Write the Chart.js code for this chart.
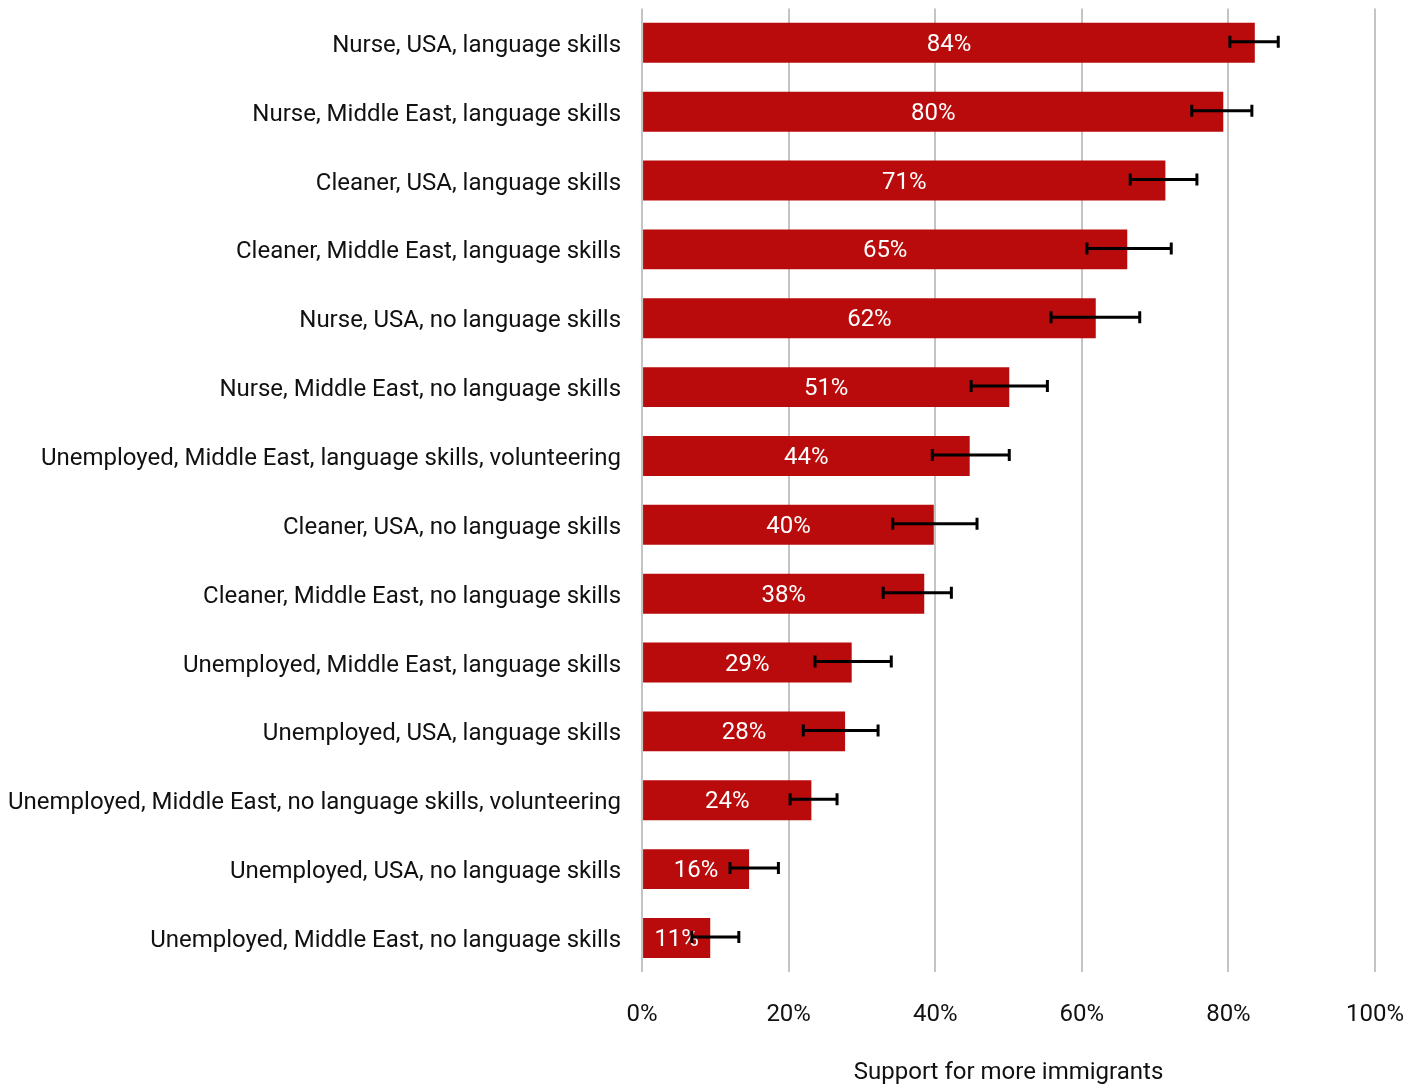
<!DOCTYPE html>
<html>
<head>
<meta charset="utf-8">
<script src="https://cdn.jsdelivr.net/npm/chart.js@4"></script>
<style>
  body { margin: 0; background: #fff; }
</style>
</head>
<body>
<canvas id="barChart" width="1421" height="1087"></canvas>
<script>
// DATA
var categories = [
  "Nurse, USA, language skills",
  "Nurse, Middle East, language skills",
  "Cleaner, USA, language skills",
  "Cleaner, Middle East, language skills",
  "Nurse, USA, no language skills",
  "Nurse, Middle East, no language skills",
  "Unemployed, Middle East, language skills, volunteering",
  "Cleaner, USA, no language skills",
  "Cleaner, Middle East, no language skills",
  "Unemployed, Middle East, language skills",
  "Unemployed, USA, language skills",
  "Unemployed, Middle East, no language skills, volunteering",
  "Unemployed, USA, no language skills",
  "Unemployed, Middle East, no language skills"
];
var support = [83.6, 79.3, 71.4, 66.2, 61.9, 50.1, 44.7, 39.8, 38.5, 28.6, 27.7, 23.1, 14.6, 9.3];
var valueLabels = ["84%", "80%", "71%", "65%", "62%", "51%", "44%", "40%", "38%", "29%", "28%", "24%", "16%", "11%"];
var errLow  = [80.2, 75.0, 66.6, 60.7, 55.8, 44.9, 39.6, 34.2, 32.9, 23.6, 22.0, 20.2, 12.0, 6.8];
var errHigh = [86.8, 83.2, 75.7, 72.2, 67.9, 55.3, 50.1, 45.7, 42.2, 34.0, 32.2, 26.6, 18.6, 13.2];
var xTicks = [0, 20, 40, 60, 80, 100];

// labels inside bars + error bars
const barExtras = {
  id: "barExtras",
  afterDatasetsDraw(chart) {
    const ctx = chart.ctx;
    const meta = chart.getDatasetMeta(0);
    const xs = chart.scales.x;
    ctx.save();
    ctx.font = "24px Roboto";
    ctx.fillStyle = "#ffffff";
    ctx.textAlign = "center";
    ctx.textBaseline = "middle";
    meta.data.forEach((bar, i) => {
      ctx.fillText(valueLabels[i], (bar.base + bar.x) / 2, bar.y + 2);
    });
    ctx.strokeStyle = "#000000";
    ctx.lineWidth = 3;
    meta.data.forEach((bar, i) => {
      const x1 = xs.getPixelForValue(errLow[i]);
      const x2 = xs.getPixelForValue(errHigh[i]);
      const y = bar.y - 1;
      ctx.beginPath();
      ctx.moveTo(x1, y); ctx.lineTo(x2, y);
      ctx.moveTo(x1, y - 6); ctx.lineTo(x1, y + 6);
      ctx.moveTo(x2, y - 6); ctx.lineTo(x2, y + 6);
      ctx.stroke();
    });
    ctx.restore();
  }
};

new Chart("barChart", {
  type: "bar",
  data: {
    labels: categories,
    datasets: [{
      data: support,
      backgroundColor: "#b90b0b",
      categoryPercentage: 1,
      barPercentage: 0.58
    }]
  },
  plugins: [barExtras],
  options: {
    indexAxis: "y",
    responsive: false,
    animation: false,
    devicePixelRatio: 1,
    layout: { padding: { left: 8, right: 46, top: 0, bottom: 0 } },
    plugins: {
      legend: { display: false },
      tooltip: { enabled: false }
    },
    scales: {
      x: {
        min: 0,
        max: 100,
        afterBuildTicks: (axis) => { axis.ticks = xTicks.map(v => ({ value: v })); },
        grid: { color: "#c4c4c4", lineWidth: 2, drawTicks: true, tickLength: 28, tickColor: "transparent" },
        border: { display: false },
        ticks: {
          color: "#111",
          font: { family: "Roboto", size: 24 },
          padding: 0,
          callback: (v) => v + "%"
        },
        title: {
          display: true,
          text: "Support for more immigrants",
          color: "#111",
          font: { family: "Roboto", size: 24 },
          padding: { top: 29, bottom: 0 }
        }
      },
      y: {
        grid: { color: "transparent", drawOnChartArea: false, drawTicks: true, tickLength: 21 },
        border: { display: false },
        ticks: {
          color: "#111",
          font: { family: "Roboto", size: 24, lineHeight: 0.7 },
          padding: 0,
          labelOffset: 3
        }
      }
    }
  }
});
</script>
</body>
</html>
